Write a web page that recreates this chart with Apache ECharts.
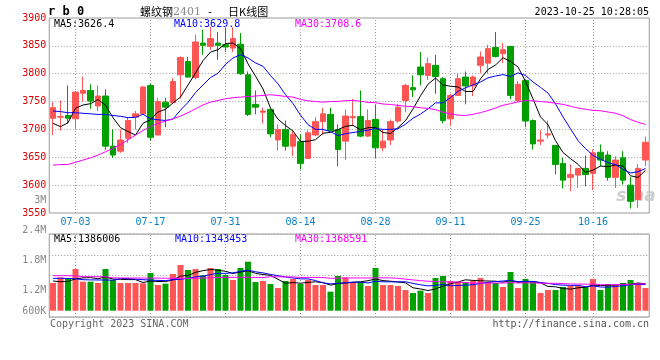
<!DOCTYPE html>
<html><head><meta charset="utf-8">
<script src="https://cdn.jsdelivr.net/npm/echarts@6/dist/echarts.min.js"></script>
<style>html,body{margin:0;padding:0;background:#fff}#c{width:660px;height:360px}</style>
</head><body><div id="c"></div>
<script>
const dates = ['06-28','06-29','06-30','07-03','07-04','07-05','07-06','07-07','07-10','07-11',
'07-12','07-13','07-14','07-17','07-18','07-19','07-20','07-21','07-24','07-25',
'07-26','07-27','07-28','07-31','08-01','08-02','08-03','08-04','08-07','08-08',
'08-09','08-10','08-11','08-14','08-15','08-16','08-17','08-18','08-21','08-22',
'08-23','08-24','08-25','08-28','08-29','08-30','08-31','09-01','09-04','09-05',
'09-06','09-07','09-08','09-11','09-12','09-13','09-14','09-15','09-18','09-19',
'09-20','09-21','09-22','09-25','09-26','09-27','09-28','10-09','10-10','10-11',
'10-12','10-13','10-16','10-17','10-18','10-19','10-20','10-23','10-24','10-25'];
const tickLabels = ['07-03','07-17','07-31','08-14','08-28','09-11','09-25','10-16'];

const opens = [3720,3722,3725,3719,3765,3770,3742,3760,3670,3661,
3684,3722,3728,3779,3690,3749,3748,3798,3822,3793,
3855,3849,3855,3852,3846,3853,3798,3745,3731,3736,
3681,3700,3670,3678,3648,3690,3714,3727,3700,3679,
3721,3723,3688,3718,3667,3681,3715,3752,3775,3812,
3797,3815,3791,3719,3761,3794,3778,3815,3819,3847,
3836,3849,3752,3788,3716,3679,3690,3671,3639,3614,
3618,3630,3621,3659,3654,3614,3649,3600,3574,3645];
const closes = [3739,3723,3720,3767,3770,3751,3760,3670,3654,3681,
3716,3728,3776,3686,3750,3740,3786,3829,3794,3857,
3851,3863,3851,3848,3863,3800,3727,3740,3733,3692,
3700,3670,3691,3639,3694,3714,3728,3698,3664,3724,
3723,3688,3716,3667,3679,3714,3740,3779,3771,3798,
3818,3795,3716,3761,3791,3778,3794,3830,3845,3831,
3843,3761,3781,3715,3674,3681,3692,3637,3609,3619,
3630,3619,3658,3645,3614,3645,3609,3571,3630,3677];
const lows = [3690,3698,3710,3700,3750,3737,3733,3664,3649,3658,
3676,3700,3727,3680,3690,3704,3746,3755,3793,3790,
3834,3843,3825,3839,3839,3798,3724,3727,3711,3686,
3662,3662,3652,3628,3648,3688,3690,3697,3634,3645,
3706,3686,3686,3649,3661,3672,3712,3731,3758,3779,
3789,3764,3711,3706,3760,3745,3760,3801,3800,3829,
3819,3754,3749,3704,3664,3672,3684,3619,3594,3589,
3595,3598,3591,3634,3608,3595,3601,3558,3559,3634];
const highs = [3749,3752,3779,3769,3795,3781,3779,3772,3700,3700,
3721,3733,3778,3782,3757,3757,3792,3831,3830,3870,
3879,3884,3875,3883,3883,3873,3804,3770,3739,3737,
3709,3716,3698,3692,3698,3722,3739,3739,3709,3736,
3755,3770,3736,3744,3700,3718,3746,3782,3797,3839,
3829,3834,3794,3764,3800,3804,3797,3840,3852,3875,
3855,3850,3787,3790,3718,3699,3716,3671,3649,3637,
3631,3653,3664,3673,3661,3652,3661,3615,3638,3687];
const volumes = [1393000,1511000,1490000,1683000,1421000,1421000,1393000,1683000,1455000,1393000,
1393000,1393000,1386000,1600000,1352000,1380000,1580000,1766000,1663000,1683000,
1552000,1704000,1683000,1559000,1455000,1704000,1835000,1414000,1435000,1373000,
1290000,1435000,1476000,1373000,1455000,1352000,1352000,1214000,1538000,1511000,
1414000,1414000,1331000,1704000,1352000,1352000,1331000,1248000,1186000,1235000,
1186000,1497000,1538000,1435000,1414000,1414000,1435000,1497000,1414000,1393000,
1311000,1621000,1290000,1476000,1414000,1186000,1248000,1248000,1311000,1331000,
1331000,1311000,1476000,1248000,1373000,1352000,1393000,1455000,1393000,1290000];

// moving-average values before enough history exists
const ma5Head = [3711,3705,3712,3738];
const ma10Head = [3733,3732,3730,3730,3729,3728,3727,3727,3725];
const ma30Head = [3636,3637,3637,3641,3645,3649,3654,3660,3666,3673,3681,3690,3698,3705,3711,3715,3719,3724,3730,3737,3744,3749,3752,3755,3757,3758,3759,3760,3761];
const vma5Head = [1435000,1420000,1425000,1480000];
const vma10Head = [1490000,1490000,1488000,1480000,1462000,1458000,1456000,1455000,1452000];
const vma30Head = [1545000,1545000,1545000,1540000,1525000,1524000,1524000,1522000,1500000,1498000,1497000,1497000,1496000,1495000,1494000,1493000,1492000,1491000,1491000,1492000,1496000,1502000,1508000,1510000,1511000,1511000,1510000,1508000,1505000];

const volTickValues = [600000,1200000,1800000,2400000,3000000];
const volTickLabels = ['600K','1.2M','1.8M','2.4M','3M'];

function movingAvg(src, n, head) {
  return src.map((v, i) => {
    if (i < n - 1) return head[i];
    let s = 0; for (let k = i - n + 1; k <= i; k++) s += src[k];
    return +(s / n).toFixed(2);
  });
}

const UP = '#ff5555', DOWN = '#00a000';
const MONO = 'DejaVu Sans Mono';
const candleData = opens.map((o, i) => [o, closes[i], lows[i], highs[i]]);
const volData = volumes.map((v, i) => ({value: v, itemStyle: {color: closes[i] >= opens[i] ? UP : DOWN}}));
const dot = {color: '#9a9a9a', type: [1, 2], width: 1};
function gridMarkLine() {
  return {
    z: 1, silent: true, animation: false, symbol: ['none', 'none'],
    label: {show: false}, lineStyle: dot,
    data: tickLabels.map(d => ({xAxis: d}))
  };
}
function maLine(data, color, xi, yi, extra) {
  return Object.assign({type: 'line', xAxisIndex: xi, yAxisIndex: yi, data: data, symbol: 'none',
    z: 3, silent: true, lineStyle: {color: color, width: 1}}, extra || {});
}
function txt(text, x, y, fill, align, extra) {
  return {type: 'text', silent: true, style: Object.assign({text: text, x: x, y: y, fill: fill,
    align: align || 'left', verticalAlign: 'middle', fontSize: 10, fontFamily: MONO}, extra || {})};
}

const L = 49.25, R = 10.75;
const chart = echarts.init(document.getElementById('c'), null, {renderer: 'canvas'});
chart.setOption({
  animation: false,
  backgroundColor: '#fff',
  grid: [
    {left: L, right: R, top: 18, height: 195, show: true, borderColor: '#999', borderWidth: 1},
    {left: L, right: R, top: 234, height: 76.7},
    {left: L, right: R, top: 234, height: 83, show: true, borderColor: '#999', borderWidth: 1},
    {left: L, right: R, top: 170.5, height: 180}
  ],
  xAxis: [
    {type: 'category', gridIndex: 0, data: dates, boundaryGap: true,
      axisLine: {show: false}, axisTick: {show: false}, splitLine: {show: false},
      axisLabel: {interval: (i, v) => tickLabels.includes(v), color: '#0b7fc7', fontSize: 10, fontFamily: MONO, margin: 4}},
    {type: 'category', gridIndex: 1, data: dates, show: false},
    {type: 'category', gridIndex: 2, data: dates, show: false},
    {type: 'category', gridIndex: 3, data: dates, show: false}
  ],
  yAxis: [
    {type: 'value', gridIndex: 0, min: 3550, max: 3900, interval: 50,
      axisLine: {show: false}, axisTick: {show: false},
      axisLabel: {color: '#dd0000', fontSize: 10, fontFamily: MONO, margin: 3, formatter: v => String(v)},
      splitLine: {show: true, showMinLine: false, showMaxLine: false, lineStyle: dot}},
    {type: 'value', gridIndex: 1, min: 820000, max: 2408000, show: false},
    {type: 'value', gridIndex: 2, min: 0, max: 4, interval: 1,
      axisLine: {show: false}, axisTick: {show: false}, axisLabel: {show: false},
      splitLine: {show: true, lineStyle: dot}},
    {type: 'value', gridIndex: 3, min: 0, max: 3600000, interval: 600000,
      axisLine: {show: false}, axisTick: {show: false}, splitLine: {show: false},
      axisLabel: {color: '#888', fontSize: 10, fontFamily: MONO, margin: 3,
        formatter: v => { const k = volTickValues.indexOf(v); if (k < 0) return ''; return k === 0 ? '{s|' + volTickLabels[k] + '}' : volTickLabels[k]; },
        rich: {s: {color: '#888', fontSize: 10, fontFamily: MONO, padding: [0, 0, 19, 0]}}}}
  ],
  series: [
    {type: 'candlestick', xAxisIndex: 0, yAxisIndex: 0, data: candleData, barWidth: 6, z: 2, silent: true,
      itemStyle: {color: UP, color0: DOWN, borderColor: UP, borderColor0: DOWN, borderWidth: 1}},
    maLine(movingAvg(closes, 5, ma5Head), '#000000', 0, 0),
    maLine(movingAvg(closes, 10, ma10Head), '#0000ff', 0, 0),
    maLine(movingAvg(closes, 30, ma30Head), '#ff00ff', 0, 0, {markLine: gridMarkLine()}),
    {type: 'line', xAxisIndex: 2, yAxisIndex: 2, data: dates.map(() => null), symbol: 'none', silent: true,
      z: 1, lineStyle: {opacity: 0}, markLine: gridMarkLine()},
    {type: 'bar', xAxisIndex: 1, yAxisIndex: 1, data: volData, barWidth: 6, z: 2, silent: true},
    maLine(movingAvg(volumes, 5, vma5Head), '#000000', 1, 1),
    maLine(movingAvg(volumes, 10, vma10Head), '#0000ff', 1, 1),
    maLine(movingAvg(volumes, 30, vma30Head), '#ff00ff', 1, 1)
  ],
  graphic: [
    txt('r b 0', 48, 12, '#000', 'left', {fontSize: 12, fontWeight: 'bold'}),
    {type: 'text', silent: true, style: {x: 140, y: 12, verticalAlign: 'middle',
      text: '{a|螺纹钢}{b|2401}{c| - }{a|日K线图}',
      rich: {a: {fill: '#000', fontSize: 11, fontFamily: 'Noto Sans CJK SC'},
             b: {fill: '#888', fontSize: 11, fontFamily: 'DejaVu Serif'},
             c: {fill: '#000', fontSize: 10, fontFamily: MONO, padding: [0, 9, 0, 0]}}}},
    txt('2023-10-25 10:28:05', 649, 12, '#000', 'right'),
    txt('MA5:3626.4', 54, 24, '#000'),
    txt('MA10:3629.8', 174, 24, '#0000ff'),
    txt('MA30:3708.6', 295, 24, '#ff00ff'),
    txt('MA5:1386006', 54, 239, '#000'),
    txt('MA10:1343453', 175, 239, '#0000ff'),
    txt('MA30:1368591', 295, 239, '#ff00ff'),
    txt('sina', 636, 197, '#c4c4c4', 'center', {fontSize: 17, fontStyle: 'italic', fontWeight: 'bold', fontFamily: 'DejaVu Sans', opacity: 0.85}),
    txt('Copyright 2023 SINA.COM', 50, 324, '#666'),
    txt('http://finance.sina.com.cn', 649, 324, '#555', 'right')
  ]
});
</script></body></html>
